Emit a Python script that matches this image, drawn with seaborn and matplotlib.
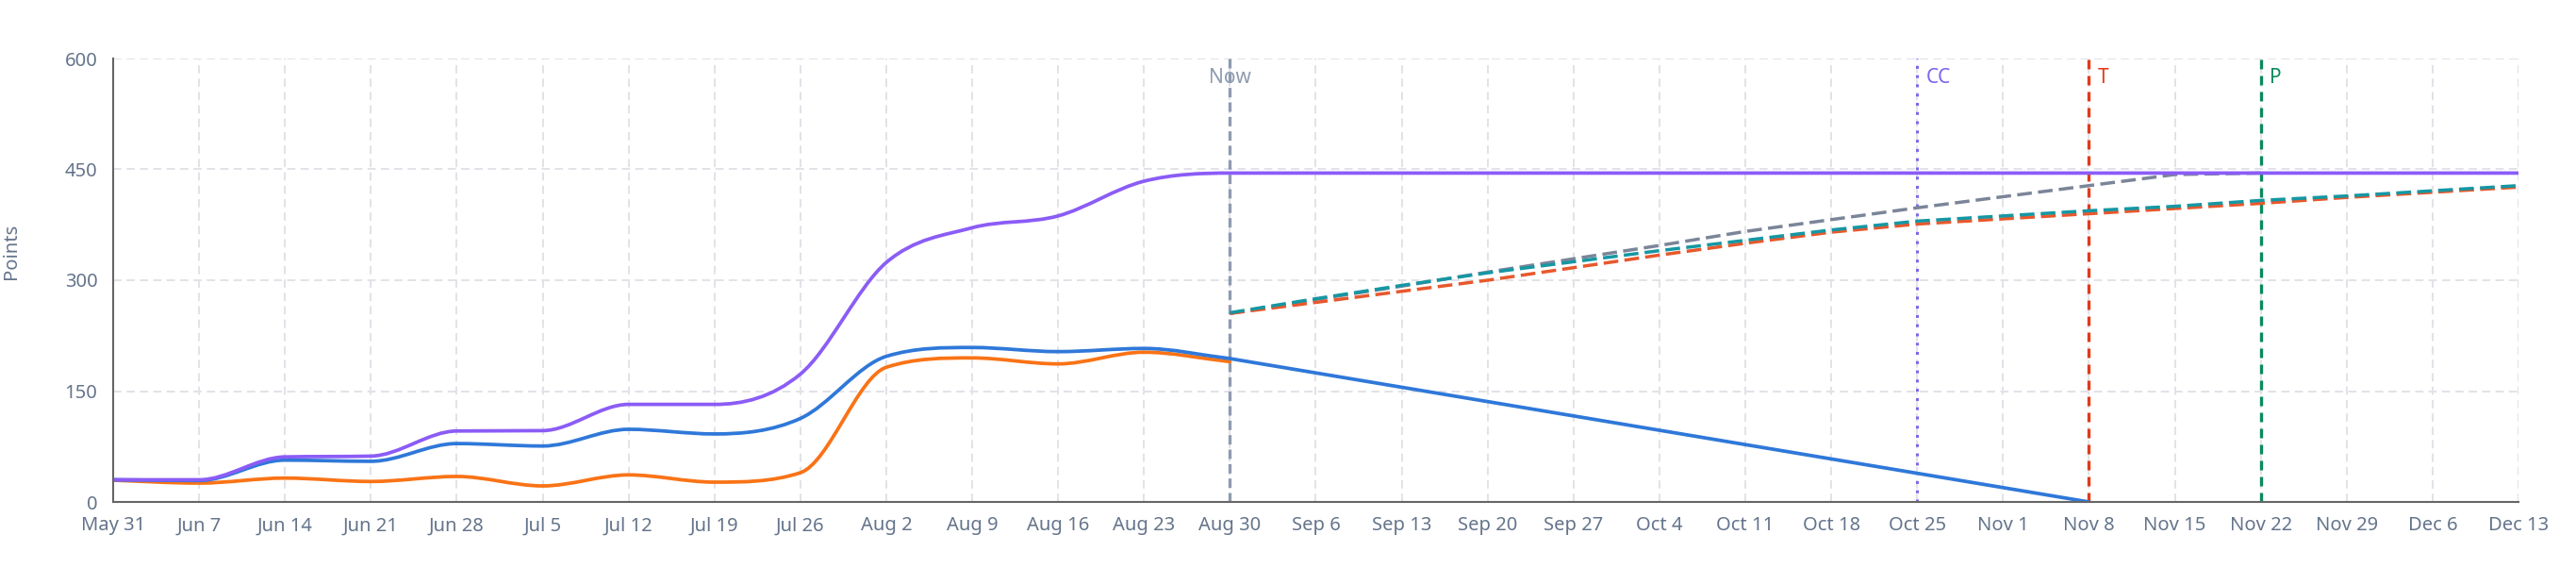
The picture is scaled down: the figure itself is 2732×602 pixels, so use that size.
import numpy as np
import pandas as pd
import matplotlib
matplotlib.use("Agg")
import matplotlib.pyplot as plt
import matplotlib.dates as mdates
import matplotlib.transforms as mtransforms
from matplotlib.path import Path
from matplotlib.patches import PathPatch
import seaborn as sns

# ---------------- data ----------------
hist_dates = ["2025-05-31", "2025-06-07", "2025-06-14", "2025-06-21", "2025-06-28",
              "2025-07-05", "2025-07-12", "2025-07-19", "2025-07-26", "2025-08-02",
              "2025-08-09", "2025-08-16", "2025-08-23", "2025-08-30"]
scope_dates = hist_dates + ["2025-09-06", "2025-09-13", "2025-09-20", "2025-09-27",
                            "2025-10-04", "2025-10-11", "2025-10-18", "2025-10-25",
                            "2025-11-01", "2025-11-08", "2025-11-15", "2025-11-22",
                            "2025-11-29", "2025-12-06", "2025-12-13"]
scope_values = [30, 30, 61, 62, 96, 96.5, 132, 132, 173, 324, 371, 387, 434, 445,
                445, 445, 445, 445, 445, 445, 445, 445, 445, 445, 445, 445, 445, 445, 445]
remaining_values = [30, 29, 56.6, 55, 79, 75.7, 98.3, 92, 113, 197, 209, 203.4, 207.7, 194]
completed_values = [29.4, 25.5, 32.3, 27.7, 34.5, 21.7, 36.6, 26.8, 39.6, 182.2, 194.9,
                    186.8, 202.6, 189.8]

burndown_dates = ["2025-08-30", "2025-11-08"]
burndown_values = [194, 0]

proj_dates = ["2025-08-30", "2025-09-06", "2025-09-13", "2025-09-20", "2025-09-27",
              "2025-10-04", "2025-10-11", "2025-10-18", "2025-10-25", "2025-11-01",
              "2025-11-08", "2025-11-15", "2025-11-22", "2025-11-29", "2025-12-06",
              "2025-12-13"]
proj_teal = [256, 275, 293, 310, 325, 340, 354, 368, 380, 387, 394, 400, 408, 414, 421, 428]
proj_red = [255, 270, 285, 300, 317, 334, 350, 365, 376, 383, 390, 397, 404, 412, 419, 426]
ideal_dates = proj_dates[:13]
ideal_values = [255, 274, 292, 311, 329, 347, 366, 382, 398, 413, 428, 443, 445]

markers = {"Now": "2025-08-30", "CC": "2025-10-25", "T": "2025-11-08", "P": "2025-11-22"}

xtick_dates = ["2025-05-31", "2025-06-07", "2025-06-14", "2025-06-21", "2025-06-28",
               "2025-07-05", "2025-07-12", "2025-07-19", "2025-07-26", "2025-08-02",
               "2025-08-09", "2025-08-16", "2025-08-23", "2025-08-30", "2025-09-06",
               "2025-09-13", "2025-09-20", "2025-09-27", "2025-10-04", "2025-10-11",
               "2025-10-18", "2025-10-25", "2025-11-01", "2025-11-08", "2025-11-15",
               "2025-11-22", "2025-11-29", "2025-12-06", "2025-12-13"]
xtick_labels = ["May 31", "Jun 7", "Jun 14", "Jun 21", "Jun 28", "Jul 5", "Jul 12",
                "Jul 19", "Jul 26", "Aug 2", "Aug 9", "Aug 16", "Aug 23", "Aug 30",
                "Sep 6", "Sep 13", "Sep 20", "Sep 27", "Oct 4", "Oct 11", "Oct 18",
                "Oct 25", "Nov 1", "Nov 8", "Nov 15", "Nov 22", "Nov 29", "Dec 6", "Dec 13"]
ytick_values = [0, 150, 300, 450, 600]

# ---------------- style ----------------
sns.set_theme(style="white")
plt.rcParams["font.family"] = ["Noto Sans", "DejaVu Sans"]

TXT = "#64748b"
C_SCOPE = "#8b5cf6"
C_REMAIN = "#2f78d9"
C_DONE = "#f97316"
C_TEAL = "#1597a3"
C_RED = "#e8582c"
C_GREY = "#7b8599"
M_COL = {"Now": "#8e9bb0", "CC": "#7b68ee", "T": "#e23a1a", "P": "#0b8a5c"}

fig = plt.figure(figsize=(27.32, 6.02), dpi=100)
ax = fig.add_axes([120 / 2732, 70 / 602, (2671 - 120) / 2732, 470 / 602])


def monotone_path(xs, ys):
    xs = np.asarray(xs, float)
    ys = np.asarray(ys, float)
    n = len(xs)
    d = np.diff(ys) / np.diff(xs)
    m = np.zeros(n)
    m[0], m[-1] = d[0], d[-1]
    for i in range(1, n - 1):
        if d[i - 1] * d[i] <= 0:
            m[i] = 0.0
        else:
            m[i] = (d[i - 1] + d[i]) / 2
    for i in range(n - 1):
        if abs(d[i]) < 1e-12:
            m[i] = m[i + 1] = 0.0
            continue
        a = m[i] / d[i]
        b = m[i + 1] / d[i]
        s = a * a + b * b
        if s > 9:
            t = 3 / np.sqrt(s)
            m[i] = t * a * d[i]
            m[i + 1] = t * b * d[i]
    verts = [(xs[0], ys[0])]
    codes = [Path.MOVETO]
    for i in range(n - 1):
        dx = (xs[i + 1] - xs[i]) / 3
        verts += [(xs[i] + dx, ys[i] + m[i] * dx),
                  (xs[i + 1] - dx, ys[i + 1] - m[i + 1] * dx),
                  (xs[i + 1], ys[i + 1])]
        codes += [Path.CURVE4] * 3
    return Path(verts, codes)


# projections via seaborn
proj_df = pd.DataFrame({"date": pd.to_datetime(proj_dates), "teal": proj_teal, "red": proj_red})
ideal_df = pd.DataFrame({"date": pd.to_datetime(ideal_dates), "v": ideal_values})
burn_df = pd.DataFrame({"date": pd.to_datetime(burndown_dates), "v": burndown_values})

sns.lineplot(data=ideal_df, x="date", y="v", ax=ax, color=C_GREY, lw=2.5, zorder=4)
ax.lines[-1].set_dashes([4.5, 1.9])
sns.lineplot(data=proj_df, x="date", y="red", ax=ax, color=C_RED, lw=2.5, zorder=5)
ax.lines[-1].set_dashes([4.5, 1.9])
sns.lineplot(data=proj_df, x="date", y="teal", ax=ax, color=C_TEAL, lw=2.5, zorder=6)
ax.lines[-1].set_dashes([4.5, 1.9])
sns.lineplot(data=burn_df, x="date", y="v", ax=ax, color=C_REMAIN, lw=2.7, zorder=7)

# smoothed history curves
for dates, vals, col, z in [(scope_dates, scope_values, C_SCOPE, 8),
                            (hist_dates, remaining_values, C_REMAIN, 7),
                            (hist_dates, completed_values, C_DONE, 6)]:
    xs = mdates.date2num(pd.to_datetime(dates))
    patch = PathPatch(monotone_path(xs, vals), fill=False, edgecolor=col, lw=2.7,
                      capstyle="round", joinstyle="round", zorder=z, transform=ax.transData)
    ax.add_patch(patch)

# vertical markers
trans = mtransforms.blended_transform_factory(ax.transData, ax.transAxes)
for name, d in markers.items():
    xd = pd.Timestamp(d)
    col = M_COL[name]
    if name == "CC":
        ln = ax.axvline(xd, color=col, lw=2.2, zorder=3)
        ln.set_dashes([1, 2.2])
    elif name == "Now":
        ln = ax.axvline(xd, color=col, lw=2.4, zorder=3)
        ln.set_dashes([3.0, 1.6])
    else:
        ln = ax.axvline(xd, color=col, lw=2.4, zorder=3)
        ln.set_dashes([3.0, 2.1])
    xn = mdates.date2num(xd)
    if name == "Now":
        ax.text(xn, 0.957, name, transform=trans, ha="center", va="center",
                color=col, fontsize=15, zorder=9)
    else:
        ax.text(xn + 0.75, 0.957, name, transform=trans, ha="left", va="center",
                color=col, fontsize=15, zorder=9)

# axes
ax.set_xlim(pd.Timestamp(xtick_dates[0]), pd.Timestamp(xtick_dates[-1]))
ax.set_ylim(0, 600)
ax.set_xticks(pd.to_datetime(xtick_dates))
ax.set_xticklabels(xtick_labels)
ax.set_yticks(ytick_values)
ax.set_yticklabels([str(v) for v in ytick_values])
ax.set_xlabel("")
ax.set_ylabel("Points", color=TXT, fontsize=14.5)
ax.yaxis.label.set_verticalalignment("center")
ax.yaxis.set_label_coords(-0.0425, 0.565)

ax.grid(True, color="#e2e2e8", lw=1.4, linestyle=(0, (4.5, 2.8)), zorder=0)
ax.set_axisbelow(True)
for s in ["top", "right"]:
    ax.spines[s].set_visible(False)
for s in ["left", "bottom"]:
    ax.spines[s].set_color("#666666")
    ax.spines[s].set_linewidth(1.5)
    ax.spines[s].set_zorder(10)
ax.tick_params(axis="x", colors="#dcdce2", length=4, width=1.4, pad=7,
               labelcolor=TXT, labelsize=14.5)
ax.tick_params(axis="y", colors="#dcdce2", length=9, width=1.4, pad=3,
               labelcolor=TXT, labelsize=14.5)
ax.set_facecolor("white")
fig.patch.set_facecolor("white")

fig.savefig("out.png", dpi=100, facecolor="white")
